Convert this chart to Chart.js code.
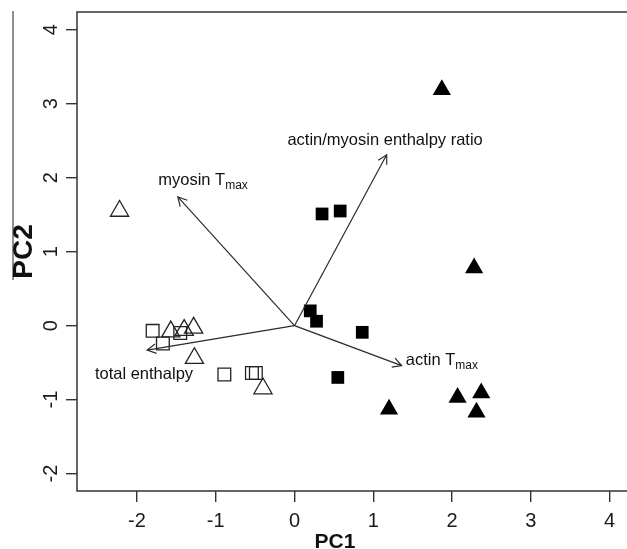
<!DOCTYPE html>
<html>
<head>
<meta charset="utf-8">
<script src="https://cdn.jsdelivr.net/npm/chart.js@4.4.1/dist/chart.umd.min.js"></script>
<style>
  html, body { margin: 0; padding: 0; background: #fff; overflow: hidden; }
  canvas { display: block; }
</style>
</head>
<body>
<canvas id="pca" width="627" height="549"></canvas>
<script>
// axis ticks
const xTicks = [-2, -1, 0, 1, 2, 3, 4];
const yTicks = [-2, -1, 0, 1, 2, 3, 4];

// scores, one pair of arrays per marker group
const filledSqX = [0.35, 0.58, 0.20, 0.28, 0.86, 0.55];
const filledSqY = [1.51, 1.55, 0.20, 0.06, -0.09, -0.70];
const filledTriX = [1.87, 2.28, 2.07, 2.37, 2.31, 1.20];
const filledTriY = [3.19, 0.78, -0.97, -0.91, -1.17, -1.13];
const openSqX = [-1.80, -1.45, -1.67, -0.89, -0.54, -0.49];
const openSqY = [-0.07, -0.10, -0.24, -0.66, -0.64, -0.64];
const openTriX = [-2.22, -1.57, -1.40, -1.28, -1.27, -0.40];
const openTriY = [1.55, -0.08, -0.06, -0.03, -0.44, -0.85];

// loadings (arrow tips) and where their names sit
const arrowNames = ['actin/myosin enthalpy ratio', 'myosin T', 'total enthalpy', 'actin T'];
const arrowSubs = ['', 'max', '', 'max'];
const arrowX = [1.17, -1.48, -1.87, 1.36];
const arrowY = [2.31, 1.74, -0.33, -0.54];
const labelX = [1.15, -1.16, -1.91, 1.87];
const labelY = [2.50, 1.96, -0.66, -0.47];

const FONT = '"Liberation Sans", Arial, Helvetica, sans-serif';
Chart.defaults.font.family = FONT;

const zip = (xs, ys) => xs.map((v, i) => ({ x: v, y: ys[i] }));

const arrowSets = arrowX.map((v, i) => ({
  type: 'scatter',
  data: [{ x: 0, y: 0 }, { x: v, y: arrowY[i] }],
  showLine: true,
  borderColor: '#2b2b2b',
  borderWidth: 1.2,
  pointRadius: 0
}));

// arrow heads, box, labels and tick labels
const overlay = {
  id: 'overlay',
  afterDatasetsDraw(chart) {
    const { ctx, chartArea: a, scales: { x, y } } = chart;
    ctx.save();
    ctx.strokeStyle = '#2b2b2b';
    ctx.lineWidth = 1.2;
    const x0 = x.getPixelForValue(0), y0 = y.getPixelForValue(0);
    arrowX.forEach((v, i) => {
      const x1 = x.getPixelForValue(v), y1 = y.getPixelForValue(arrowY[i]);
      const ang = Math.atan2(y1 - y0, x1 - x0);
      ctx.beginPath();
      ctx.moveTo(x1 - 10 * Math.cos(ang - 0.5), y1 - 10 * Math.sin(ang - 0.5));
      ctx.lineTo(x1, y1);
      ctx.lineTo(x1 - 10 * Math.cos(ang + 0.5), y1 - 10 * Math.sin(ang + 0.5));
      ctx.stroke();
    });

    // plot box (right side is cut off in the figure)
    ctx.strokeStyle = '#333';
    ctx.lineWidth = 1.5;
    ctx.beginPath();
    ctx.moveTo(chart.width + 2, a.top);
    ctx.lineTo(a.left, a.top);
    ctx.lineTo(a.left, a.bottom);
    ctx.lineTo(chart.width + 2, a.bottom);
    ctx.stroke();

    // stray line at the far left
    ctx.strokeStyle = '#444';
    ctx.lineWidth = 1.2;
    ctx.beginPath();
    ctx.moveTo(13, 11);
    ctx.lineTo(13, 280);
    ctx.stroke();

    // loading names
    ctx.fillStyle = '#111';
    ctx.textBaseline = 'middle';
    ctx.textAlign = 'left';
    arrowNames.forEach((name, i) => {
      const cx = x.getPixelForValue(labelX[i]), cy = y.getPixelForValue(labelY[i]);
      ctx.font = '16.5px ' + FONT;
      const w1 = ctx.measureText(name).width;
      ctx.font = '12px ' + FONT;
      const w2 = arrowSubs[i] ? ctx.measureText(arrowSubs[i]).width : 0;
      const sx = cx - (w1 + w2) / 2;
      ctx.font = '16.5px ' + FONT;
      ctx.fillText(name, sx, cy);
      if (arrowSubs[i]) {
        ctx.font = '12px ' + FONT;
        ctx.fillText(arrowSubs[i], sx + w1, cy + 5);
      }
    });

    // tick labels; the y ones run along the axis like R does
    ctx.font = '20px ' + FONT;
    ctx.fillStyle = '#1a1a1a';
    ctx.textAlign = 'center';
    ctx.textBaseline = 'alphabetic';
    xTicks.forEach(v => {
      ctx.fillText(String(v), x.getPixelForValue(v), 527);
    });
    yTicks.forEach(v => {
      ctx.save();
      ctx.translate(57, y.getPixelForValue(v));
      ctx.rotate(-Math.PI / 2);
      ctx.fillText(String(v), 0, 0);
      ctx.restore();
    });

    // axis titles
    ctx.fillStyle = '#111';
    ctx.font = 'bold 21px ' + FONT;
    ctx.fillText('PC1', 335, 548);
    ctx.save();
    ctx.translate(24, (a.top + a.bottom) / 2);
    ctx.rotate(-Math.PI / 2);
    ctx.font = 'bold 28px ' + FONT;
    ctx.textBaseline = 'middle';
    ctx.fillText('PC2', 0, 0);
    ctx.restore();
    ctx.restore();
  }
};

new Chart(document.getElementById('pca'), {
  type: 'scatter',
  data: {
    datasets: [
      ...arrowSets,
      {
        data: zip(filledSqX, filledSqY),
        pointStyle: 'rect', pointRadius: 9,
        backgroundColor: '#000', borderColor: '#000', borderWidth: 0
      },
      {
        data: zip(filledTriX, filledTriY),
        pointStyle: 'triangle', pointRadius: 10.5,
        backgroundColor: '#000', borderColor: '#000', borderWidth: 0
      },
      {
        data: zip(openSqX, openSqY),
        pointStyle: 'rect', pointRadius: 9,
        backgroundColor: 'rgba(0,0,0,0)', borderColor: '#222', borderWidth: 1.3
      },
      {
        data: zip(openTriX, openTriY),
        pointStyle: 'triangle', pointRadius: 10.5,
        backgroundColor: 'rgba(0,0,0,0)', borderColor: '#222', borderWidth: 1.3
      }
    ]
  },
  options: {
    responsive: false,
    animation: false,
    layout: { autoPadding: false, padding: { top: 12, right: 0, left: 0, bottom: 0 } },
    plugins: { legend: { display: false }, tooltip: { enabled: false } },
    scales: {
      x: {
        type: 'linear', min: -2.76, max: 4.22,
        afterBuildTicks: s => { s.ticks = xTicks.map(v => ({ value: v })); },
        afterFit: s => { s.height = 58; },
        border: { display: false },
        grid: { drawOnChartArea: false, drawTicks: true, tickLength: 11, color: '#333', lineWidth: 1.4 },
        ticks: { display: false }
      },
      y: {
        type: 'linear', min: -2.235, max: 4.24,
        afterBuildTicks: s => { s.ticks = yTicks.map(v => ({ value: v })); },
        afterFit: s => { s.width = 77; },
        border: { display: false },
        grid: { drawOnChartArea: false, drawTicks: true, tickLength: 11, color: '#333', lineWidth: 1.4 },
        ticks: { display: false }
      }
    }
  },
  plugins: [overlay]
});
</script>
</body>
</html>
